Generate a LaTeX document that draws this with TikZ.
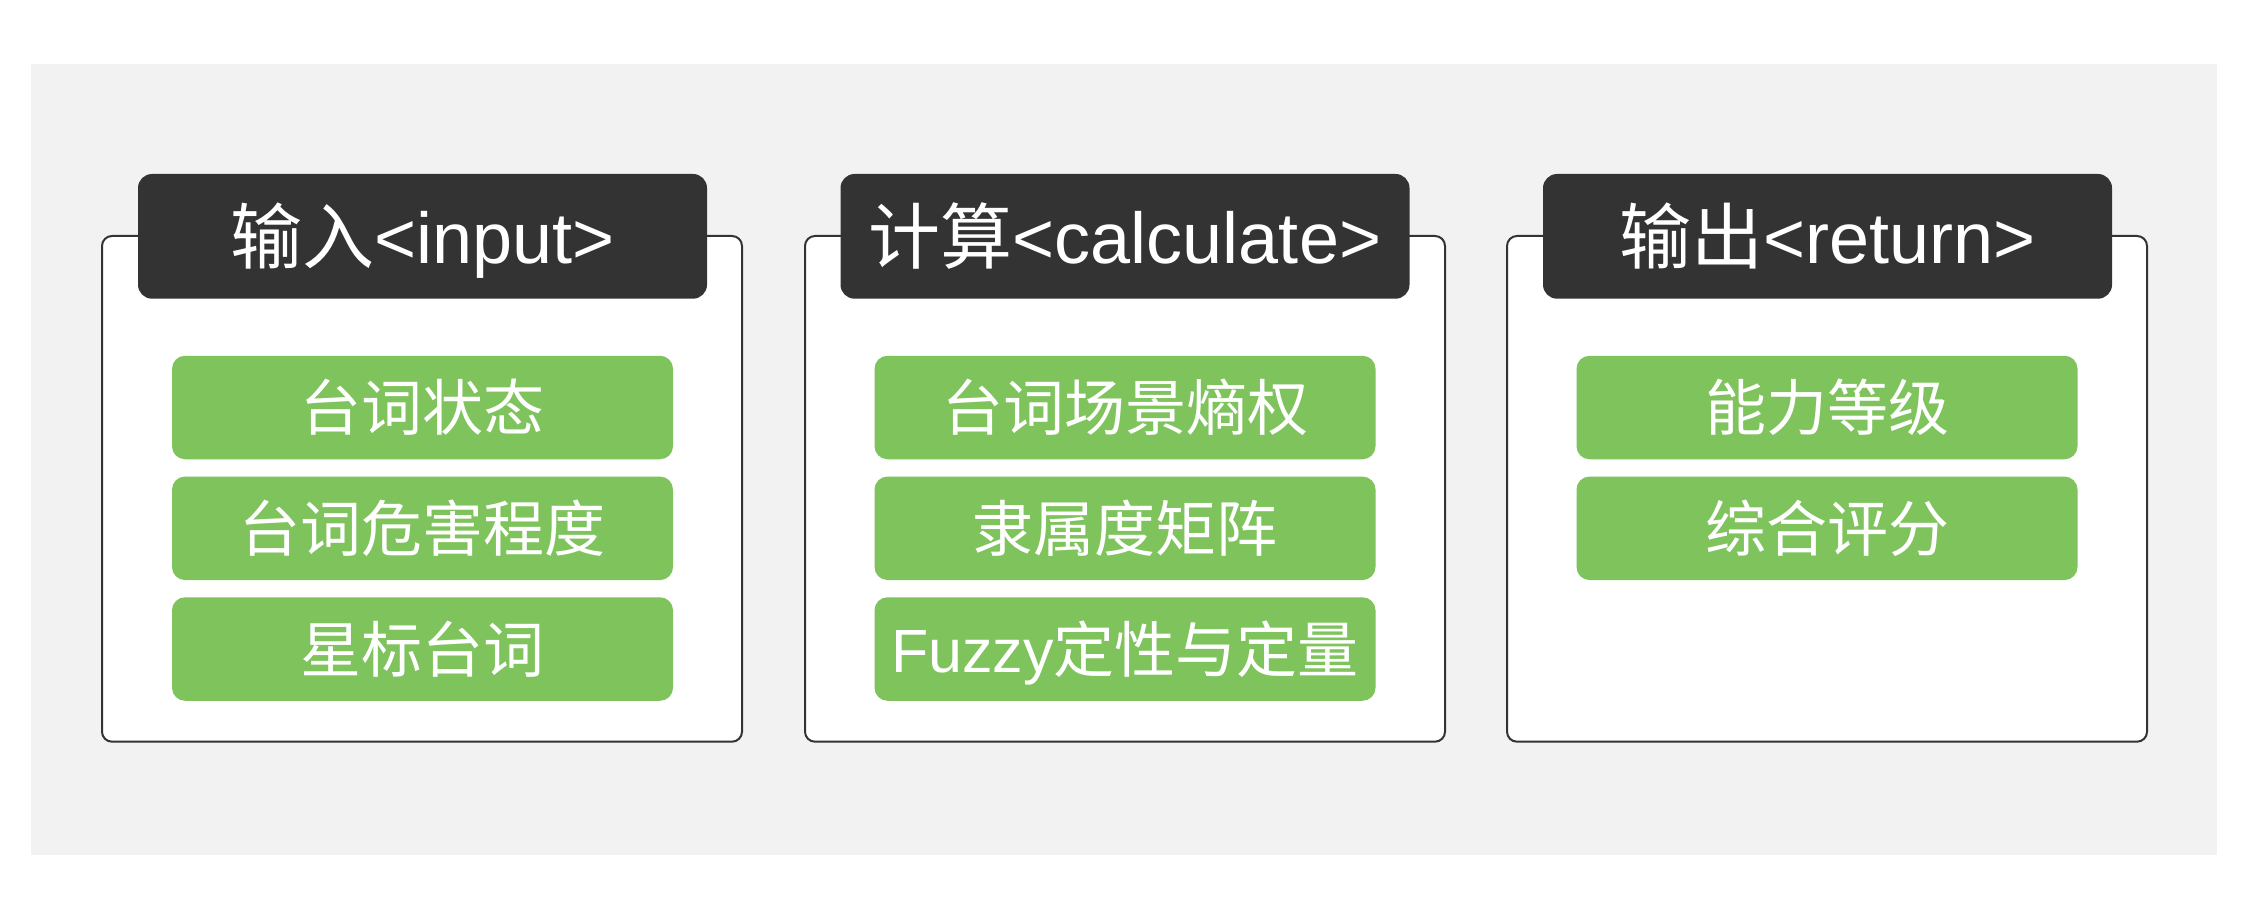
\documentclass[tikz,border=0pt]{standalone}
\usepackage{fontspec}
\setmainfont{Liberation Sans}
\newfontfamily\cjk{Noto Sans CJK SC}
\newfontfamily\latin{Liberation Sans}
\definecolor{bggray}{HTML}{F2F2F2}
\definecolor{darkhd}{HTML}{333333}
\definecolor{leaf}{RGB}{126,195,92}
\begin{document}
\begin{tikzpicture}[x=1pt,y=-1pt,
  bgbox/.style={fill=bggray, inner sep=0pt, minimum width=2186pt, minimum height=791pt},
  panel/.style={draw=darkhd, line width=2pt, fill=white, rounded corners=10pt,
    minimum width=640pt, minimum height=505.7pt, inner sep=0pt},
  header/.style={fill=darkhd, rounded corners=14pt, minimum width=569pt,
    minimum height=124.7pt, inner sep=0pt, text=white,
    font=\fontsize{72}{72}\selectfont, text height=60.5pt, text depth=5.8pt},
  item/.style={fill=leaf, rounded corners=13pt, minimum width=501pt,
    minimum height=103.5pt, inner sep=0pt, text=white,
    font=\cjk\fontsize{61}{61}\selectfont, text height=51.2pt, text depth=4.9pt}]
\useasboundingbox (0,0) rectangle (2250,917);
\node[bgbox] (bg) at (1124,459.5) {};
% panel 1
\node[panel] (p1) at (422,488.85) {};
\node[header] (h1) at (422.5,236.35) {{\cjk 输入}<input>};
\node[item] (a1) at (422.5,407.5) {台词状态};
\node[item] (a2) at (422.5,528.3) {台词危害程度};
\node[item] (a3) at (422.5,649) {星标台词};
% panel 2
\node[panel] (p2) at (1125,488.85) {};
\node[header] (h2) at (1125,236.35) {{\cjk 计算}<calculate>};
\node[item] (b1) at (1125,407.5) {台词场景熵权};
\node[item] (b2) at (1125,528.3) {隶属度矩阵};
\node[item] (b3) at (1125,649) {{\latin Fuzzy}定性与定量};
% panel 3
\node[panel] (p3) at (1827,488.85) {};
\node[header] (h3) at (1827.5,236.35) {{\cjk 输出}<return>};
\node[item] (c1) at (1827,407.5) {能力等级};
\node[item] (c2) at (1827,528.3) {综合评分};
\end{tikzpicture}
\end{document}
